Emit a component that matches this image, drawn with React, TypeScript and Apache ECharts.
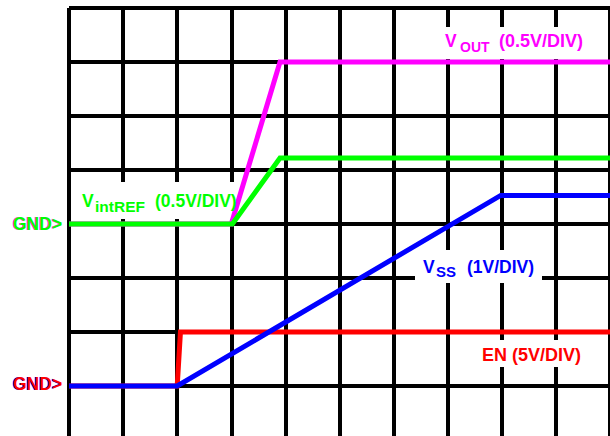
import React, { useEffect, useRef } from "react";
import * as echarts from "echarts";

// Traces, in grid divisions (x: 0..10, y: 0..8)
const voutX = [0, 3.0, 3.9, 10];
const voutY = [4, 4, 7, 7];
const vrefX = [0, 3.02, 3.9, 10];
const vrefY = [4, 4, 5.22, 5.22];
const enX = [0, 2.0, 2.06, 10];
const enY = [1, 1, 2, 2];
const vssX = [0, 2.0, 7.98, 10];
const vssY = [1, 1, 4.53, 4.53];

const traceNames = ["VOUT", "VintREF", "EN", "VSS"];
const traceColors = ["#ff00ff", "#00ff00", "#ff0000", "#0000ff"];

const FONT = '"Liberation Sans", Arial, Helvetica, sans-serif';
const MAIN = 17.5;

function pairs(xs: number[], ys: number[]) {
  return xs.map((x, i) => [x, ys[i]]);
}

// capTop: desired top of capital letters, in pixels
function txt(text: string, x: number, capTop: number, fill: string, size = MAIN, z = 5) {
  return {
    type: "text",
    x,
    y: capTop - 0.17 * size,
    z,
    style: {
      text,
      fill,
      font: `bold ${size}px ${FONT}`,
      textVerticalAlign: "top",
      verticalAlign: "top",
      textAlign: "left",
    },
  };
}

function box(x: number, y: number, w: number, h: number) {
  return {
    type: "rect",
    z: 1,
    shape: { x, y, width: w, height: h },
    style: { fill: "#ffffff" },
  };
}

export default function App() {
  const ref = useRef<HTMLDivElement>(null);
  useEffect(() => {
    if (!ref.current) return;
    const chart = echarts.init(ref.current, undefined, { renderer: "svg" });
    const data = [pairs(voutX, voutY), pairs(vrefX, vrefY), pairs(enX, enY), pairs(vssX, vssY)];
    chart.setOption({
      animation: false,
      backgroundColor: "#ffffff",
      grid: { left: 69, top: 8, right: 0, bottom: 4, containLabel: false },
      xAxis: {
        type: "value",
        min: 0,
        max: 10,
        interval: 1,
        axisLabel: { show: false },
        axisTick: { show: false },
        axisLine: { show: false },
        splitLine: { show: true, lineStyle: { color: "#000", width: 4 } },
      },
      yAxis: {
        type: "value",
        min: 0,
        max: 8,
        interval: 1,
        axisLabel: { show: false },
        axisTick: { show: false },
        axisLine: { show: false },
        splitLine: { show: true, lineStyle: { color: "#000", width: 4 } },
      },
      series: data.map((d, i) => ({
        name: traceNames[i],
        type: "line",
        data: d,
        symbol: "none",
        z: 3,
        clip: false,
        lineStyle: { color: traceColors[i], width: 5, join: "miter" },
      })),
      graphic: [
        box(440, 27, 152, 32),
        box(78, 182, 160, 37),
        box(415, 250, 127, 33),
        box(476, 340, 114, 27),
        // VOUT
        txt("V", 445, 35, "#ff00ff"),
        txt("OUT", 460, 42, "#ff00ff", 14),
        txt("(0.5V/DIV)", 499, 35, "#ff00ff", 18),
        // VintREF
        txt("V", 82, 195, "#00ff00"),
        txt("intREF", 95, 201.5, "#00ff00", 15.5),
        txt("(0.5V/DIV)", 155, 195, "#00ff00"),
        // VSS
        txt("V", 423, 260.5, "#0000ff"),
        txt("SS", 436, 266.5, "#0000ff", 15),
        txt("(1V/DIV)", 467, 260.5, "#0000ff"),
        // EN
        txt("EN (5V/DIV)", 482, 349, "#ff0000", 18),
        // GND markers
        txt("GND>", 12, 218, "#ff00ff"),
        txt("GND>", 13, 218, "#00ff00"),
        txt("GND>", 12, 378, "#0000ff"),
        txt("GND>", 13, 378, "#ff0000"),
      ],
    });
    return () => chart.dispose();
  }, []);
  return (
    <div
      style={{
        position: "absolute",
        left: 0,
        top: 0,
        width: 610,
        height: 436,
        overflow: "hidden",
        background: "#fff",
      }}
    >
      <div ref={ref} style={{ width: 610, height: 444 }} />
    </div>
  );
}
